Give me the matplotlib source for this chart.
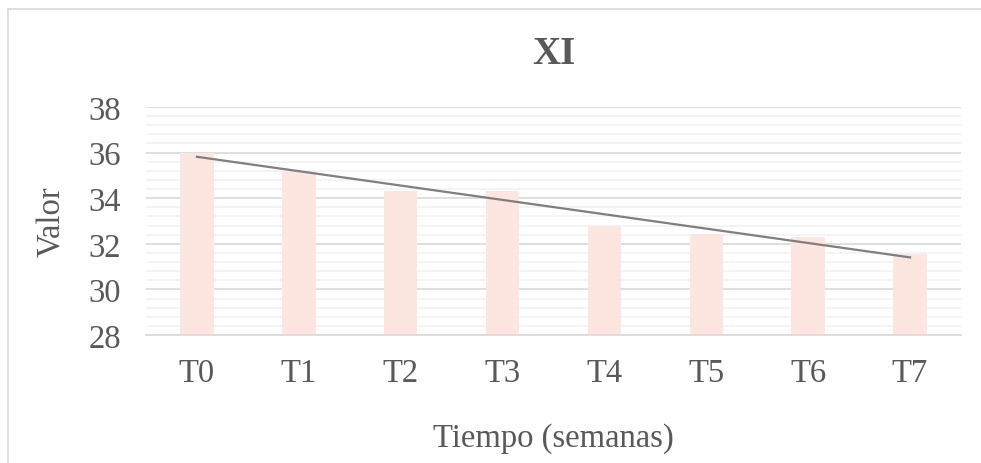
import numpy as np
import matplotlib
matplotlib.use("Agg")
import matplotlib.pyplot as plt
from matplotlib.lines import Line2D

categories = ["T0", "T1", "T2", "T3", "T4", "T5", "T6", "T7"]
values = [36.0, 35.21, 34.30, 34.32, 32.79, 32.42, 32.30, 31.54]
yticks = [28, 30, 32, 34, 36, 38]

plt.rcParams['font.family'] = ['Liberation Serif', 'DejaVu Serif']
W, H = 981, 464
fig = plt.figure(figsize=(W / 100, H / 100), dpi=100)
ax = fig.add_axes([146 / W, 1 - 336 / H, (961 - 146) / W, (336 - 108) / H])

x = np.arange(len(categories))
ax.bar(x, values, width=0.33, color="#FDE5E0", zorder=2)

# linear trendline
slope, intercept = np.polyfit(x, values, 1)
ax.plot(x, slope * x + intercept, color="#7F7F7F", lw=1.6, zorder=3)

ax.set_xlim(-0.5, len(categories) - 0.5)
ax.set_ylim(28, 38)
ax.set_yticks(yticks)
ax.set_yticks(np.arange(28, 38.01, 0.4), minor=True)
ax.set_xticks(x)
ax.set_xticklabels(categories)
ax.grid(axis="y", which="major", color="#D9D9D9", lw=1.2, zorder=0)
ax.grid(axis="y", which="minor", color="#F2F2F2", lw=1.2, zorder=0)
ax.grid(axis="x", visible=False)
for s in ["top", "right", "left"]:
    ax.spines[s].set_visible(False)
ax.spines["bottom"].set_color("#D9D9D9")
ax.spines["bottom"].set_linewidth(1.2)
ax.tick_params(axis="both", which="both", length=0, labelsize=23.5, colors="#595959")
ax.tick_params(axis="y", pad=18)
ax.tick_params(axis="x", pad=16)

ax.set_xlabel("Tiempo (semanas)", fontsize=23.5, color="#595959", labelpad=25)
ax.set_ylabel("Valor", fontsize=23.5, color="#595959", labelpad=15)
fig.text(0.5 * (146 + 961) / W, 1 - 54 / H, "XI", ha="center", va="center",
         fontsize=28, fontweight="bold", color="#595959")

# outer border (top and left)
fig.add_artist(Line2D([8 / W, 1], [1 - 10 / H, 1 - 10 / H], color="#D9D9D9", lw=1.2, transform=fig.transFigure))
fig.add_artist(Line2D([8 / W, 8 / W], [0, 1 - 10 / H], color="#D9D9D9", lw=1.2, transform=fig.transFigure))

fig.savefig("out.png", dpi=100, facecolor="white")
